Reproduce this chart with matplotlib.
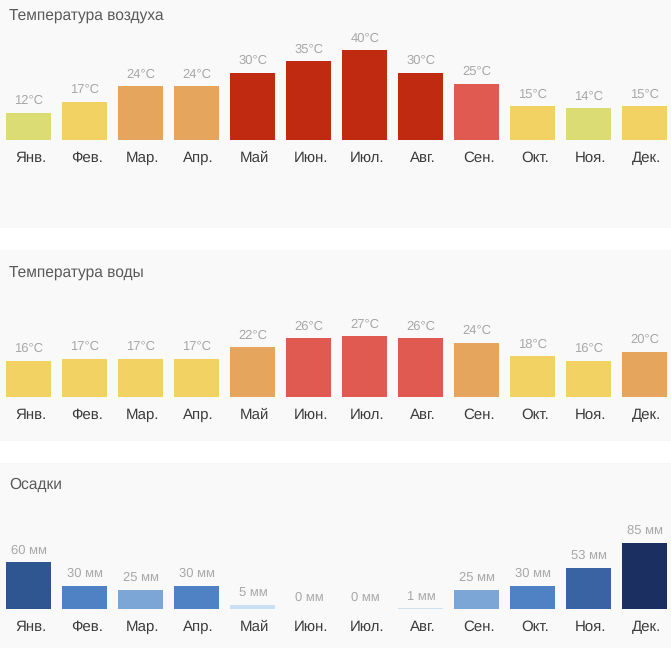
import matplotlib
matplotlib.use("Agg")
import matplotlib.pyplot as plt
from matplotlib.patches import Rectangle
from matplotlib.transforms import ScaledTranslation

months = ['Янв.', 'Фев.', 'Мар.', 'Апр.', 'Май', 'Июн.', 'Июл.', 'Авг.', 'Сен.', 'Окт.', 'Ноя.', 'Дек.']
air_temp = [12, 17, 24, 24, 30, 35, 40, 30, 25, 15, 14, 15]
water_temp = [16, 17, 17, 17, 22, 26, 27, 26, 24, 18, 16, 20]
rain = [60, 30, 25, 30, 5, 0, 0, 1, 25, 30, 53, 85]

W, H = 671, 648
plt.rcParams['font.family'] = ['Liberation Sans', 'DejaVu Sans']
plt.rcParams['text.hinting'] = 'no_hinting'


def temp_color(t):
    if t <= 14:
        return '#dbdc74'
    if t <= 18:
        return '#f2d263'
    if t < 25:
        return '#e6a55c'
    if t < 30:
        return '#e05a52'
    return '#bf2a10'


def rain_color(r):
    if r == 0:
        return 'none'
    if r <= 1:
        return '#cfe0ee'
    if r <= 5:
        return '#c8dff4'
    if r <= 25:
        return '#7ca6d6'
    if r <= 30:
        return '#4f82c4'
    if r <= 53:
        return '#3a63a4'
    if r <= 60:
        return '#2f5690'
    return '#1b2f60'


def panel(fig, top, bottom, baseline, scale, title, title_y, values, colors, unit):
    # panel background, pixel coords from the top of the picture
    fig.add_artist(Rectangle((0, 1 - bottom / H), 1, (bottom - top) / H,
                             transform=fig.transFigure, fc='#f9f9fa', ec='none', zorder=-1))
    ax = fig.add_axes([0, 1 - baseline / H, 1, (baseline - top) / H])
    ax.patch.set_visible(False)
    for s in ax.spines.values():
        s.set_visible(False)
    x = list(range(12))
    ax.bar(x, values, width=45 / 56, color=colors)
    ax.set_xlim(-28.9 / 56, (W - 28.9) / 56)
    ax.set_ylim(0, (baseline - top) / scale)
    ax.set_xticks(x, months, fontsize=10.8, color='#3c3c3c')
    ax.tick_params(axis='x', length=0, pad=8.2)
    ax.set_yticks([])
    # month names sit a little right of the bar centres
    nudge = ScaledTranslation(1.8 / 100, 0, fig.dpi_scale_trans)
    for lab in ax.get_xticklabels():
        lab.set_transform(lab.get_transform() + nudge)
    for xi, v in zip(x, values):
        ax.annotate(f'{v}{unit}', (xi, v), xytext=(0, 8.6), textcoords='offset points',
                    ha='center', va='center', fontsize=9.4, color='#a8a8a8')
    fig.text(9 / W, 1 - (title_y + 0.7) / H, title, fontsize=11.2, color='#5a5a5a', va='center')


fig = plt.figure(figsize=(W / 100, H / 100), dpi=100, facecolor='white')
panel(fig, 0, 228, 139.5, 2.23, 'Температура воздуха', 15, air_temp,
      [temp_color(t) for t in air_temp], '°C')
panel(fig, 250, 441, 397, 2.26, 'Температура воды', 272, water_temp,
      [temp_color(t) for t in water_temp], '°C')
panel(fig, 463, 648, 609, 0.78, 'Осадки', 484, rain,
      [rain_color(r) for r in rain], ' мм')
fig.savefig('out.png', dpi=100)
